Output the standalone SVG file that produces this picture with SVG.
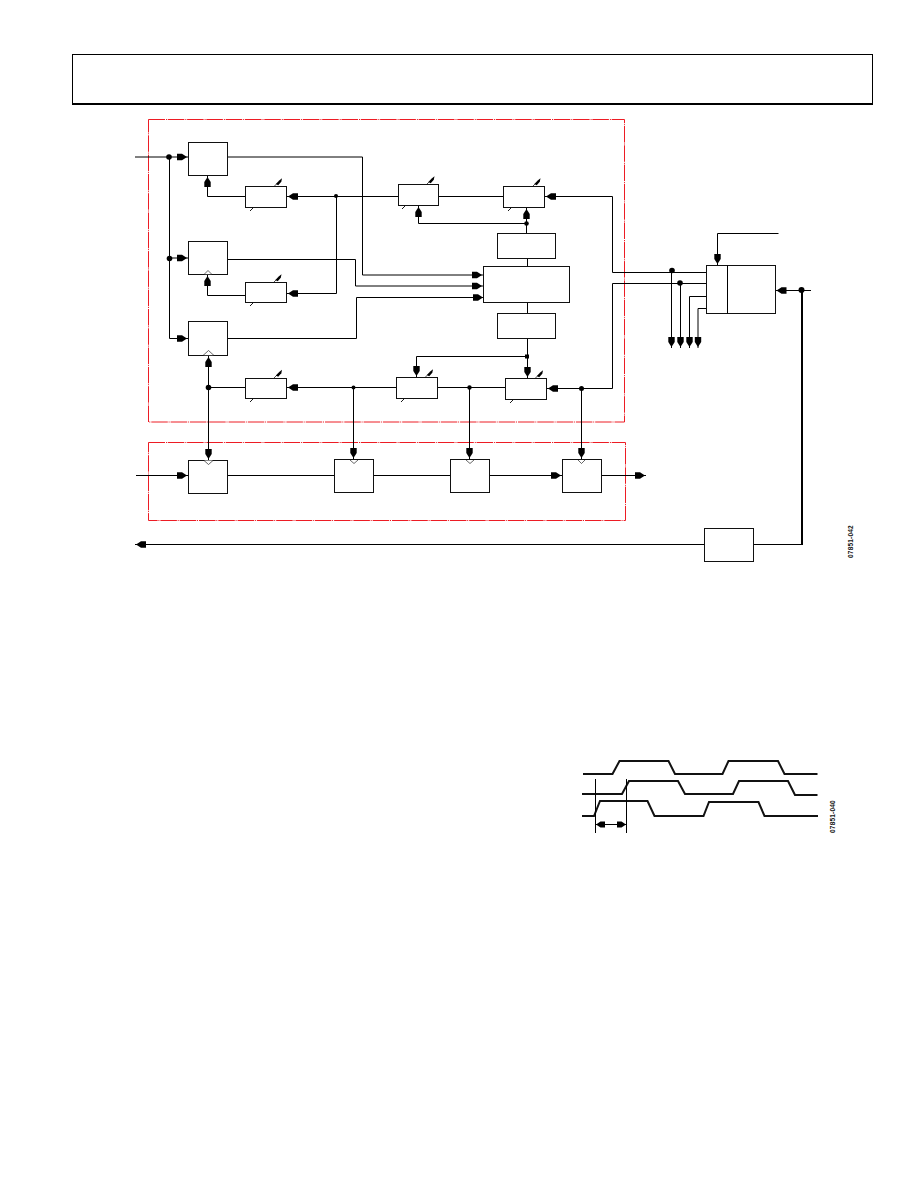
<svg xmlns="http://www.w3.org/2000/svg" width="918" height="1188" viewBox="0 0 918 1188">
<style>
.b{fill:#fff;stroke:#111;stroke-width:1}
.c{fill:none;stroke:#000;stroke-width:1}
.a{marker-end:url(#arr)}
.w{fill:none;stroke:#111;stroke-width:2}
.r{fill:none;stroke:#ed1c24;stroke-width:1;stroke-dasharray:16.5 1 1 .8}
.d{fill:#000}
.k{fill:#fff;stroke:#000;stroke-width:.6}
.t{font-family:"Liberation Sans",Arial,sans-serif;font-size:6.5px;font-weight:bold;fill:#111;letter-spacing:.2px}
</style>
<defs>
<marker id="arr" markerUnits="userSpaceOnUse" markerWidth="12" markerHeight="10" refX="11.5" refY="5" orient="auto" overflow="visible">
<path d="M0.5 1.8L5.5 1.8L10.5 5L5.5 8.200L0.5 8.200Z" fill="#000"/>
</marker>
<marker id="arb" markerUnits="userSpaceOnUse" markerWidth="12" markerHeight="10" refX="10" refY="5" orient="auto-start-reverse" overflow="visible">
<path d="M1 2L5.500 2L10 5L5.500 8L1 8Z" fill="#000"/>
</marker>
<g id="var">
<path d="M0 0L3 -3" stroke="#000" stroke-width=".7"/>
<path d="M1.8 -2.500L5.500 -6.200L8 -8.200L7.300 -4.800L4.200 -1.200Z" fill="#000"/>
</g>
<path id="tk" d="M0 3L3 0" stroke="#000" stroke-width=".9"/>
</defs>

<rect id="page-frame" x="72.5" y="54.5" width="800" height="49" fill="none" stroke="#000" stroke-width="1"/>
<path d="M72 104H873" stroke="#000" stroke-width="2"/>

<g id="frames">
<rect class="r" x="148.5" y="119.5" width="476" height="302.5"/>
<rect class="r" x="148.5" y="442.5" width="477" height="78"/>
</g>

<g id="connectors">
<path class="c a" d="M135 157H188"/>
<path class="c" d="M169.5 157V338.5"/>
<path class="c a" d="M169.5 258H188"/>
<path class="c a" d="M169.5 338.5H188"/>
<path class="c a" d="M245 196.5H207.5V176"/>
<path class="c a" d="M245 295.5H207.5V275"/>
<path class="c a" d="M398 196.5H287"/>
<path class="c a" d="M336.5 196.5V293.5H287"/>
<path class="c a" d="M228 157H362.5V275H483"/>
<path class="c a" d="M228 259.5H355.5V286H483"/>
<path class="c a" d="M228 338.5H356.5V297.5H484"/>
<path class="c" d="M438.5 196.5H503"/>
<path class="c a" d="M706 272.5H612.5V196.5H545"/>
<path class="c a" d="M706 283.5H612.5V388.5H547"/>
<path class="c a" d="M526.5 233V208"/>
<path class="c a" d="M526.5 223.5H418.5V206"/>
<path class="c" d="M527.5 258.5V266"/>
<path class="c" d="M527.5 303V313"/>
<path class="c a" d="M527.5 339V378"/>
<path class="c a" d="M527.5 356.5H416.5V377"/>
<path class="c" d="M437.5 387.5H505.5"/>
<path class="c a" d="M396 387.5H287"/>
<path class="c" d="M245 387.5H208.5"/>
<path class="c a" d="M208.5 387.5V356"/>
<path class="c a" d="M208.5 387.5V460"/>
<path class="c a" d="M353.5 387.5V459"/>
<path class="c a" d="M469.5 387.5V459"/>
<path class="c a" d="M581.5 388.5V459"/>
<path class="c a" d="M136 475.5H188"/>
<path class="c" d="M228 475.5H334"/>
<path class="c" d="M374 475.5H450"/>
<path class="c a" d="M490 475.5H562"/>
<path class="c a" d="M601 475.5H646"/>
<path class="c a" d="M704 544.5H135"/>
<path class="c a" d="M671.5 271V348"/>
<path class="c a" d="M680.5 283V348"/>
<path class="c a" d="M706 296.5H689.5V348"/>
<path class="c a" d="M706 308.5H698V348"/>
<path class="c a" d="M778.5 233.5H717.5V265"/>
<path class="c a" d="M811 290.5H775.500"/>
<path d="M802 290V545" stroke="#000" stroke-width="2" fill="none"/>
<path class="c" d="M754 544.5H803"/>
<g class="d">
<circle cx="169" cy="157" r="2.800"/><circle cx="169.500" cy="258.500" r="2.800"/>
<circle cx="336" cy="196" r="2"/><circle cx="526.500" cy="223.500" r="2.300"/>
<rect x="525" y="354.500" width="4" height="4"/>
<circle cx="208.500" cy="387.500" r="2.800"/><circle cx="353.500" cy="387.500" r="2"/>
<circle cx="469.500" cy="387.500" r="2.200"/><circle cx="581.500" cy="388.500" r="2.500"/>
<circle cx="672" cy="270.500" r="2.800"/><circle cx="680" cy="283" r="2.800"/>
<circle cx="801.500" cy="290" r="3"/>
</g>
</g>

<g id="n-a"><rect class="b" x="188.500" y="142.500" width="39" height="33"/></g>
<g id="n-b"><rect class="b" x="188.500" y="241.500" width="39" height="33"/><path class="k" d="M204 274.500L208 270.500L212 274.500Z"/></g>
<g id="n-c"><rect class="b" x="188.500" y="321.500" width="39" height="34"/><path class="k" d="M203 355.500L208.500 350.500L214 355.500Z"/></g>
<g id="n-d1"><rect class="b" x="245.500" y="186.500" width="41" height="21"/><use href="#var" x="274" y="186.500"/><use href="#tk" x="250" y="208"/></g>
<g id="n-d2"><rect class="b" x="245.500" y="282.500" width="41" height="20"/><use href="#var" x="273.500" y="282.500"/><use href="#tk" x="250" y="303"/></g>
<g id="n-d3"><rect class="b" x="398.500" y="184.500" width="40" height="21"/><use href="#var" x="426.500" y="184.500"/><use href="#tk" x="402" y="206"/></g>
<g id="n-d4"><rect class="b" x="503.500" y="186.500" width="41" height="21"/><use href="#var" x="532.500" y="186.500"/><use href="#tk" x="508" y="208"/></g>
<g id="n-d5"><rect class="b" x="245.500" y="378.500" width="41" height="20"/><use href="#var" x="274" y="378"/><use href="#tk" x="250" y="399"/></g>
<g id="n-d6"><rect class="b" x="396.500" y="377.500" width="41" height="21"/><use href="#var" x="425" y="377.500"/><use href="#tk" x="401" y="399"/></g>
<g id="n-d7"><rect class="b" x="505.500" y="378.500" width="41" height="21"/><use href="#var" x="535" y="378.500"/><use href="#tk" x="510" y="400"/></g>
<g id="n-e"><rect class="b" x="497.500" y="233.500" width="58" height="25"/></g>
<g id="n-f"><rect class="b" x="483.500" y="266.500" width="86" height="36"/></g>
<g id="n-g"><rect class="b" x="497.500" y="313.500" width="58" height="25"/></g>
<g id="n-h"><rect class="b" x="188.500" y="460.500" width="39" height="33"/><path class="k" d="M204 460.500L208.500 464.500L213 460.500"/></g>
<g id="n-i"><rect class="b" x="334.500" y="459.500" width="39" height="33"/><path class="k" d="M350 460L354 463.500L358 460"/></g>
<g id="n-j"><rect class="b" x="450.500" y="459.500" width="39" height="33"/><path class="k" d="M466 460L470 463.500L474 460"/></g>
<g id="n-k"><rect class="b" x="562.500" y="459.500" width="39" height="33"/><path class="k" d="M578 460L581.500 463.500L585 460"/></g>
<g id="n-l"><rect class="b" x="706.500" y="265.500" width="69" height="48"/><path class="c" d="M727.500 265.500V313.500"/></g>
<g id="n-m"><rect class="b" x="704.500" y="528.500" width="49" height="33"/></g>

<text class="t" transform="translate(853 558) rotate(-90)">07851-042</text>

<g id="timing">
<path class="w" d="M583 774H612.500L619.500 761H668.500L675 774H722.500L728.500 761H778L784.500 774H817.500"/>
<path class="w" d="M582 794H622L629 781H678L685 794H733L739 781H788L795 795H817.500"/>
<path class="w" d="M582 816H594L600 801H647.500L654.500 816H703.500L709 802H758.500L764.500 816H818"/>
<path class="c" d="M595.500 779V833M626.500 779V833"/>
<path class="c" d="M596 824.500H626" marker-start="url(#arb)" marker-end="url(#arb)"/>
</g>
<text class="t" transform="translate(835 833) rotate(-90)">07851-040</text>
</svg>
